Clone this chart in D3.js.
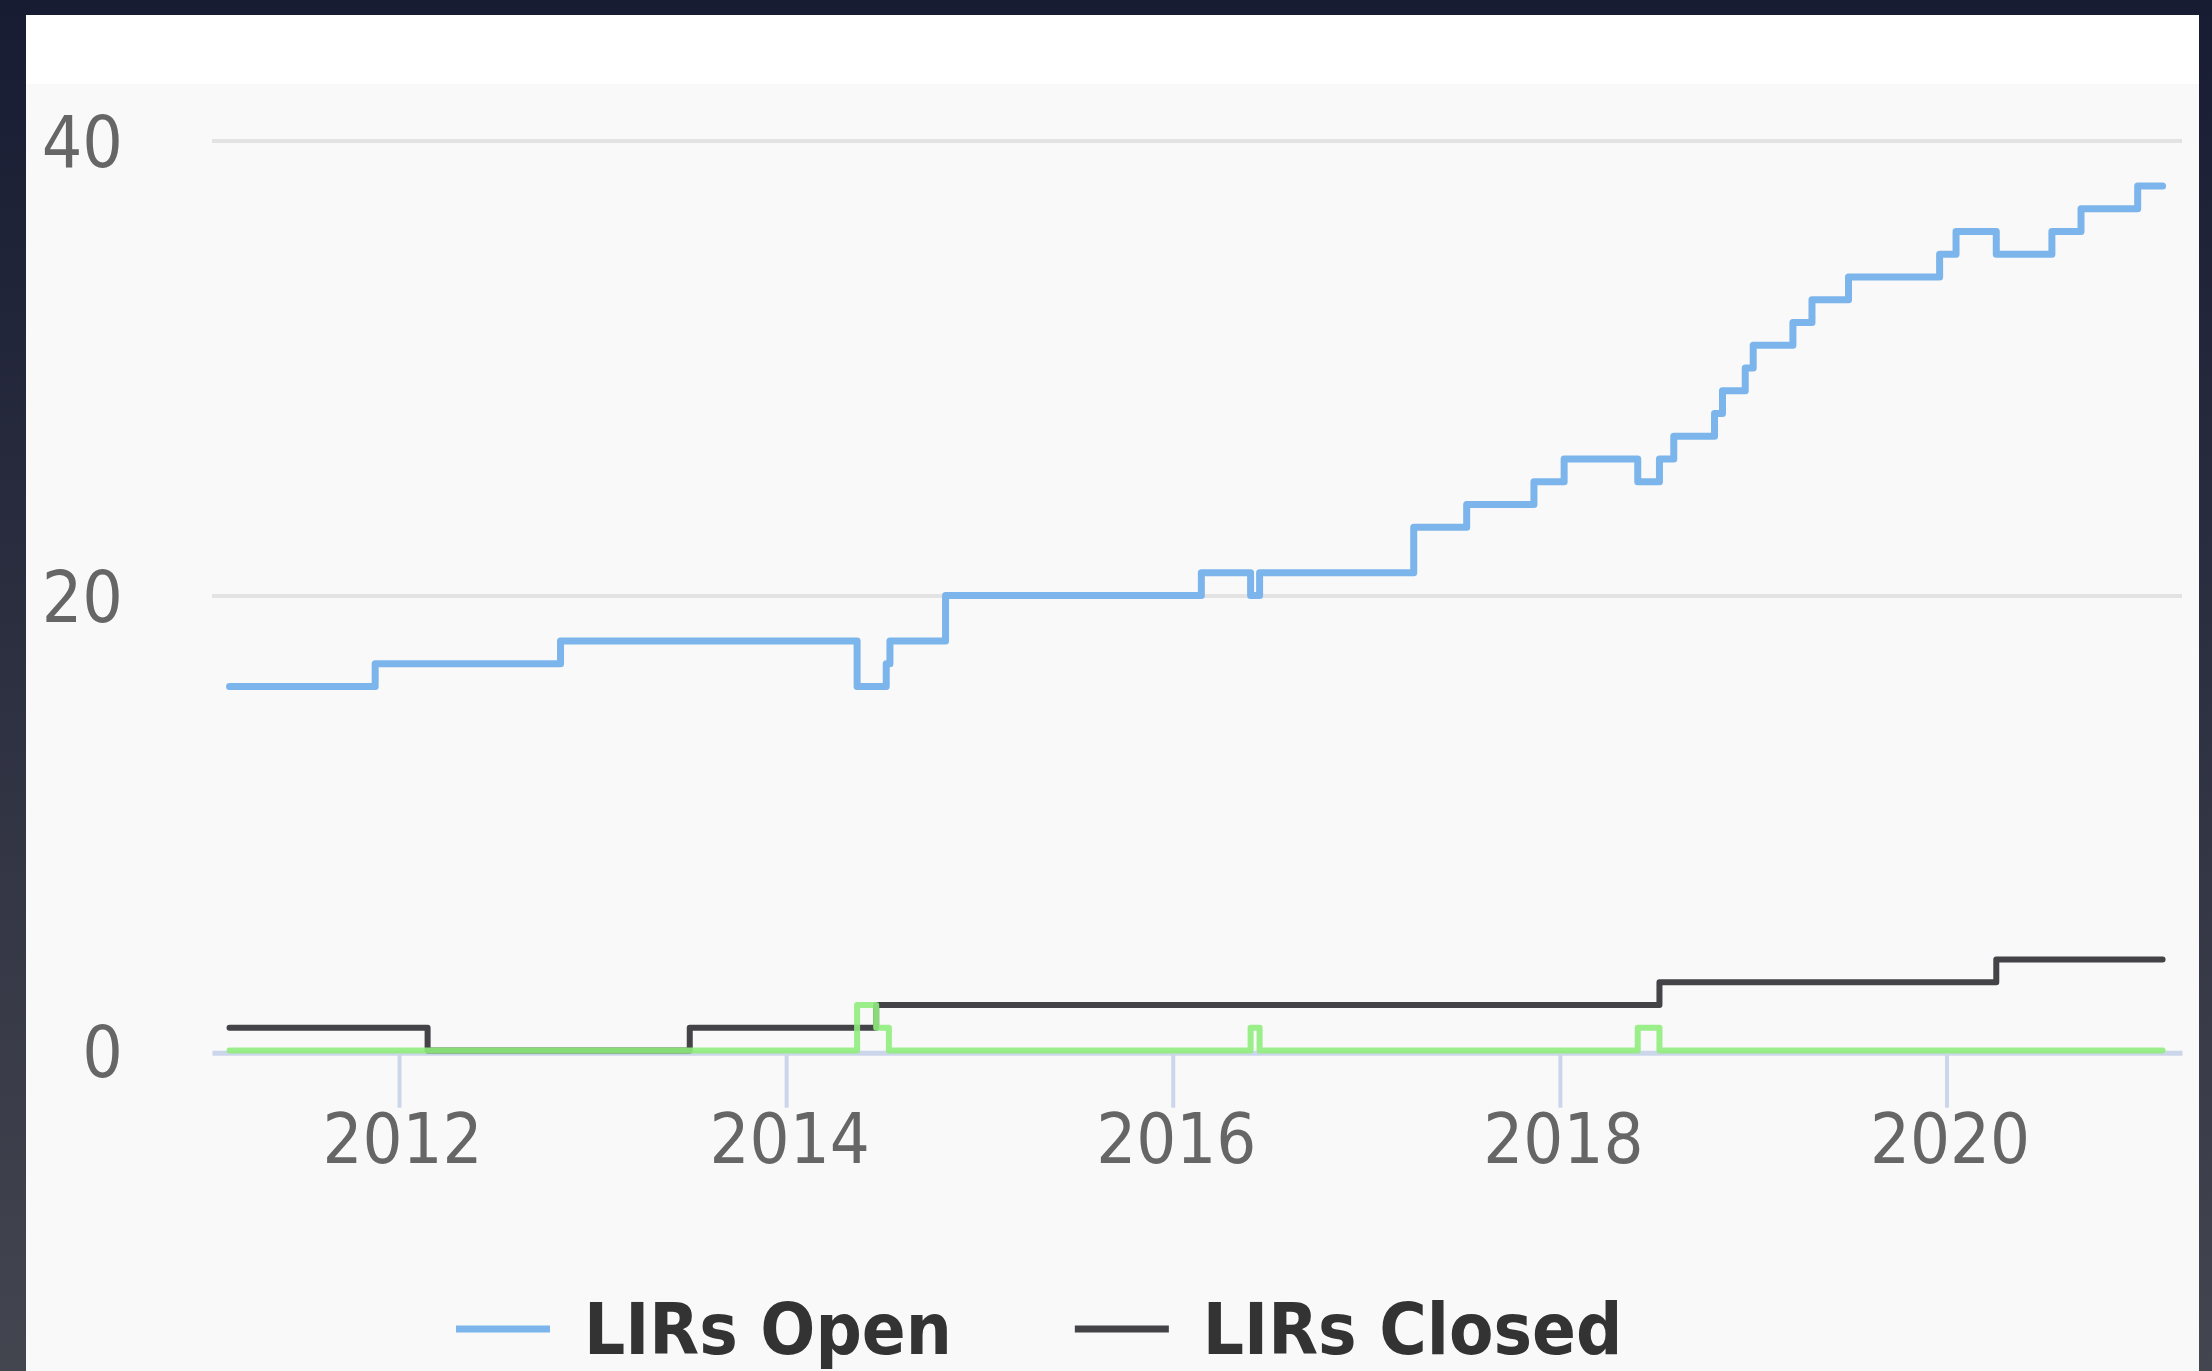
<!DOCTYPE html>
<html>
<head>
<meta charset="utf-8">
<script src="https://cdn.jsdelivr.net/npm/d3@7"></script>
<style>
  html, body { margin: 0; padding: 0; background: #1b1f35; overflow: hidden; }
  svg { display: block; }
  text { font-family: "DejaVu Sans Condensed", "DejaVu Sans", sans-serif; font-stretch: condensed; }
</style>
</head>
<body>
<div id="chart"></div>
<script>
"use strict";

// each series is a step line: a date where the count changes, and the new count.
// the last date closes the line at the end of the data.
var openDates = ["2011-02-15", "2011-11-17", "2012-11-01", "2014-05-15", "2014-07-09", "2014-07-16",
    "2014-10-29", "2016-02-24", "2016-05-27", "2016-06-13", "2017-03-31", "2017-07-09",
    "2017-11-13", "2018-01-09", "2018-05-28", "2018-07-08", "2018-08-04", "2018-10-20",
    "2018-11-04", "2018-12-17", "2019-01-01", "2019-03-17", "2019-04-22", "2019-06-30",
    "2019-12-19", "2020-01-19", "2020-04-04", "2020-07-18", "2020-09-11", "2020-12-27", "2021-02-12"];
var openValues = [16, 17, 18, 16, 17, 18,
    20, 21, 20, 21, 23, 24,
    25, 26, 25, 26, 27, 28,
    29, 30, 31, 32, 33, 34,
    35, 36, 35, 36, 37, 38, 38];

var closedDates = ["2011-02-15", "2012-02-24", "2013-07-03", "2014-06-20", "2018-07-08", "2020-04-04", "2021-02-12"];
var closedValues = [1, 0, 1, 2, 3, 4, 4];

var pendingDates = ["2011-02-15", "2014-05-15", "2014-06-20", "2014-07-14", "2016-05-27", "2016-06-13",
    "2018-05-28", "2018-07-08", "2021-02-12"];
var pendingValues = [0, 2, 1, 0, 1, 0, 1, 0, 0];

var xTickYears = ["2012", "2014", "2016", "2018", "2020"];
var yTickValues = [0, 20, 40];
var legendNames = ["LIRs Open", "LIRs Closed"];

var colors = ["#7cb5ec", "#434348", "#90ed7d"];

var W = 2212, H = 1371;
var plotLeft = 212, plotRight = 2182, axisY = 1052.7;

var svg = d3.select("#chart").append("svg")
    .attr("width", W)
    .attr("height", H);

// dark frame + panel
var grad = svg.append("defs").append("linearGradient")
    .attr("id", "frame")
    .attr("x1", 0).attr("y1", 0).attr("x2", 0).attr("y2", 1);
grad.append("stop").attr("offset", "0%").attr("stop-color", "#181c33");
grad.append("stop").attr("offset", "100%").attr("stop-color", "#43454f");

svg.append("rect").attr("width", W).attr("height", H).attr("fill", "url(#frame)");
svg.append("rect").attr("x", 26).attr("y", 15).attr("width", 2173).attr("height", H - 15).attr("fill", "#ffffff");
svg.append("rect").attr("x", 26).attr("y", 84).attr("width", 2173).attr("height", H - 84).attr("fill", "#f9f9f9");

var parse = d3.utcParse("%Y-%m-%d");

// tick years fix the time scale, then stretch it to the plot edges
var xTicks = xTickYears.map(function(t){ return parse(t + "-01-01"); });
var xBase = d3.scaleUtc().domain([xTicks[0], xTicks[xTicks.length - 1]]).range([399, 1946.5]);
var x = d3.scaleUtc()
    .domain([xBase.invert(plotLeft), xBase.invert(plotRight)])
    .range([plotLeft, plotRight]);

var y = d3.scaleLinear().domain([0, 40]).range([1050.5, 140.5]);

// y axis with grid lines
var yAxis = svg.append("g")
    .attr("transform", "translate(" + plotLeft + ",0)")
    .call(d3.axisLeft(y).tickValues(yTickValues).tickSize(-(plotRight - plotLeft)).tickPadding(89));
yAxis.select(".domain").remove();
yAxis.selectAll(".tick line")
    .attr("stroke", "#e3e3e3")
    .attr("stroke-width", 4)
    .attr("display", function(d){ return d === 0 ? "none" : null; });
yAxis.selectAll(".tick text")
    .attr("fill", "#666666")
    .attr("font-size", 71)
    .attr("dy", "0.37em");

// x axis
var xAxis = svg.append("g")
    .attr("transform", "translate(0," + axisY + ")")
    .call(d3.axisBottom(x)
        .tickValues(xTicks)
        .tickFormat(d3.utcFormat("%Y"))
        .tickSize(55)
        .tickSizeOuter(0)
        .tickPadding(6));
xAxis.select(".domain").attr("stroke", "#ccd6eb").attr("stroke-width", 5);
xAxis.selectAll(".tick line").attr("stroke", "#ccd6eb").attr("stroke-width", 4);
xAxis.selectAll(".tick text")
    .attr("fill", "#666666")
    .attr("font-size", 70)
    .attr("dx", 3);

// series
function steps(dates, values){
    return dates.map(function(d, i){ return {date: parse(d), value: values[i]}; });
}

var line = d3.line()
    .x(function(d){ return x(d.date); })
    .y(function(d){ return y(d.value); })
    .curve(d3.curveStepAfter);

var series = [
    {data: steps(openDates, openValues), color: colors[0], width: 7, opacity: 1},
    {data: steps(closedDates, closedValues), color: colors[1], width: 6, opacity: 1},
    {data: steps(pendingDates, pendingValues), color: colors[2], width: 6, opacity: 0.9}
];

svg.append("g").selectAll("path.series").data(series).enter()
    .append("path")
        .attr("class", "series")
        .attr("d", function(s){ return line(s.data); })
        .attr("fill", "none")
        .attr("stroke", function(s){ return s.color; })
        .attr("stroke-width", function(s){ return s.width; })
        .attr("stroke-opacity", function(s){ return s.opacity; })
        .attr("stroke-linejoin", "round")
        .attr("stroke-linecap", "round");

// legend
var legend = svg.append("g").attr("transform", "translate(456,1354)");
var lx = 0;
legendNames.forEach(function(name, i){
    var item = legend.append("g").attr("transform", "translate(" + lx + ",0)");
    item.append("line")
        .attr("x1", 0).attr("x2", 94)
        .attr("y1", -25).attr("y2", -25)
        .attr("stroke", colors[i])
        .attr("stroke-width", 7);
    var t = item.append("text")
        .attr("x", 128)
        .attr("fill", "#333333")
        .attr("font-size", 72)
        .attr("font-weight", "bold")
        .text(name);
    lx += 128 + t.node().getComputedTextLength() + 123;
});
</script>
</body>
</html>
